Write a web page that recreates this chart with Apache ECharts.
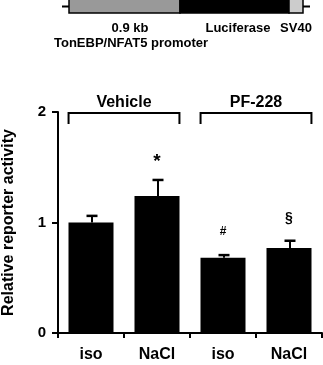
<!DOCTYPE html>
<html>
<head>
<meta charset="utf-8">
<script src="https://cdn.jsdelivr.net/npm/echarts@6/dist/echarts.min.js"></script>
<style>
  html, body { margin: 0; padding: 0; background: #fff; }
  #chart { width: 323px; height: 365px; }
</style>
</head>
<body>
<div id="chart"></div>
<script>
var categories = ['iso', 'NaCl', 'iso', 'NaCl'];
var activity = [1.00, 1.24, 0.68, 0.77];
var sem = [0.06, 0.145, 0.025, 0.065];
var marks = ['', '*', '#', '§'];
var groups = ['Vehicle', 'PF-228'];
// [first category, last category, level]
var groupSpans = [[0, 1, 2], [2, 3, 2]];
var yTicks = [0, 1, 2];

var FONT = '"Liberation Sans", Arial, sans-serif';
// glyph sizes differ a lot in the original figure
var markFont = { '*': 19, '#': 12, '§': 14 };

var chart = echarts.init(document.getElementById('chart'));

var option = {
  animation: false,
  grid: { left: 58, right: 1, top: 112, bottom: 32, outerBoundsMode: 'none' },
  // construct diagram above the chart
  graphic: [
    { type: 'line', shape: { x1: 62, y1: 6.5, x2: 310, y2: 6.5 }, style: { stroke: '#000', lineWidth: 2 } },
    { type: 'rect', shape: { x: 69, y: -2, width: 111, height: 15 }, style: { fill: '#999', stroke: '#000', lineWidth: 1.5 } },
    { type: 'rect', shape: { x: 180, y: -2, width: 109, height: 15 }, style: { fill: '#000', stroke: '#000', lineWidth: 1.5 } },
    { type: 'rect', shape: { x: 289, y: -2, width: 14, height: 15 }, style: { fill: '#ccc', stroke: '#000', lineWidth: 1.5 } },
    { type: 'text', x: 130, y: 28, style: { text: '0.9 kb', font: 'bold 13px ' + FONT, fill: '#000', align: 'center', verticalAlign: 'middle' } },
    { type: 'text', x: 238, y: 28, style: { text: 'Luciferase', font: 'bold 13px ' + FONT, fill: '#000', align: 'center', verticalAlign: 'middle' } },
    { type: 'text', x: 296, y: 28, style: { text: 'SV40', font: 'bold 13px ' + FONT, fill: '#000', align: 'center', verticalAlign: 'middle' } },
    { type: 'text', x: 131, y: 43, style: { text: 'TonEBP/NFAT5 promoter', font: 'bold 13px ' + FONT, fill: '#000', align: 'center', verticalAlign: 'middle' } }
  ],
  xAxis: {
    type: 'category',
    data: categories,
    axisLine: { lineStyle: { color: '#000', width: 2 } },
    axisTick: { show: true, length: 5, lineStyle: { color: '#000', width: 2 } },
    axisLabel: { color: '#000', fontFamily: FONT, fontWeight: 'bold', fontSize: 16, margin: 14 },
    splitLine: { show: false }
  },
  yAxis: {
    type: 'value',
    min: yTicks[0],
    max: yTicks[yTicks.length - 1],
    interval: 1,
    name: 'Relative reporter activity',
    nameLocation: 'middle',
    nameRotate: 90,
    nameGap: 41,
    nameTextStyle: { color: '#000', fontFamily: FONT, fontWeight: 'bold', fontSize: 16 },
    axisLine: { show: true, lineStyle: { color: '#000', width: 2 } },
    axisTick: { show: true, length: 6, lineStyle: { color: '#000', width: 2 } },
    axisLabel: { color: '#000', fontFamily: FONT, fontWeight: 'bold', fontSize: 15, margin: 12 },
    splitLine: { show: false }
  },
  series: [
    {
      type: 'bar',
      data: activity,
      barWidth: 45,
      itemStyle: { color: '#000' }
    },
    {
      // error bars + significance marks
      type: 'custom',
      clip: false,
      data: activity.map(function (v, i) { return [i, v, v + sem[i]]; }),
      renderItem: function (params, api) {
        var base = api.coord([api.value(0), api.value(1)]);
        var top = api.coord([api.value(0), api.value(2)]);
        var cx = base[0] + 1;
        var m = marks[params.dataIndex];
        var fs = markFont[m] || 14;
        // asterisk glyph sits high in its box, push it down a bit
        var ty = m === '*' ? top[1] - 18 : top[1] - 23;
        return {
          type: 'group',
          children: [
            { type: 'line', shape: { x1: cx, y1: base[1], x2: cx, y2: top[1] }, style: { stroke: '#000', lineWidth: 2 } },
            { type: 'line', shape: { x1: cx - 5.5, y1: top[1], x2: cx + 5.5, y2: top[1] }, style: { stroke: '#000', lineWidth: 2.5 } },
            { type: 'text', x: cx - 1, y: ty, style: { text: m, font: 'bold ' + fs + 'px ' + FONT, fill: '#000', align: 'center', verticalAlign: 'middle' } }
          ]
        };
      }
    },
    {
      // group brackets
      type: 'custom',
      clip: false,
      data: groupSpans,
      renderItem: function (params, api) {
        var p0 = api.coord([api.value(0), api.value(2)]);
        var p1 = api.coord([api.value(1), api.value(2)]);
        var half = api.size([1, 0])[0] * 0.34;
        var y = p0[1] + 1;
        return {
          type: 'group',
          children: [
            { type: 'polyline', shape: { points: [[p0[0] - half, y + 11], [p0[0] - half, y], [p1[0] + half, y], [p1[0] + half, y + 11]] }, style: { stroke: '#000', lineWidth: 2, fill: null } },
            { type: 'text', x: (p0[0] + p1[0]) / 2, y: y - 10, style: { text: groups[params.dataIndex], font: 'bold 16px ' + FONT, fill: '#000', align: 'center', verticalAlign: 'middle' } }
          ]
        };
      }
    }
  ]
};

chart.setOption(option);
</script>
</body>
</html>
